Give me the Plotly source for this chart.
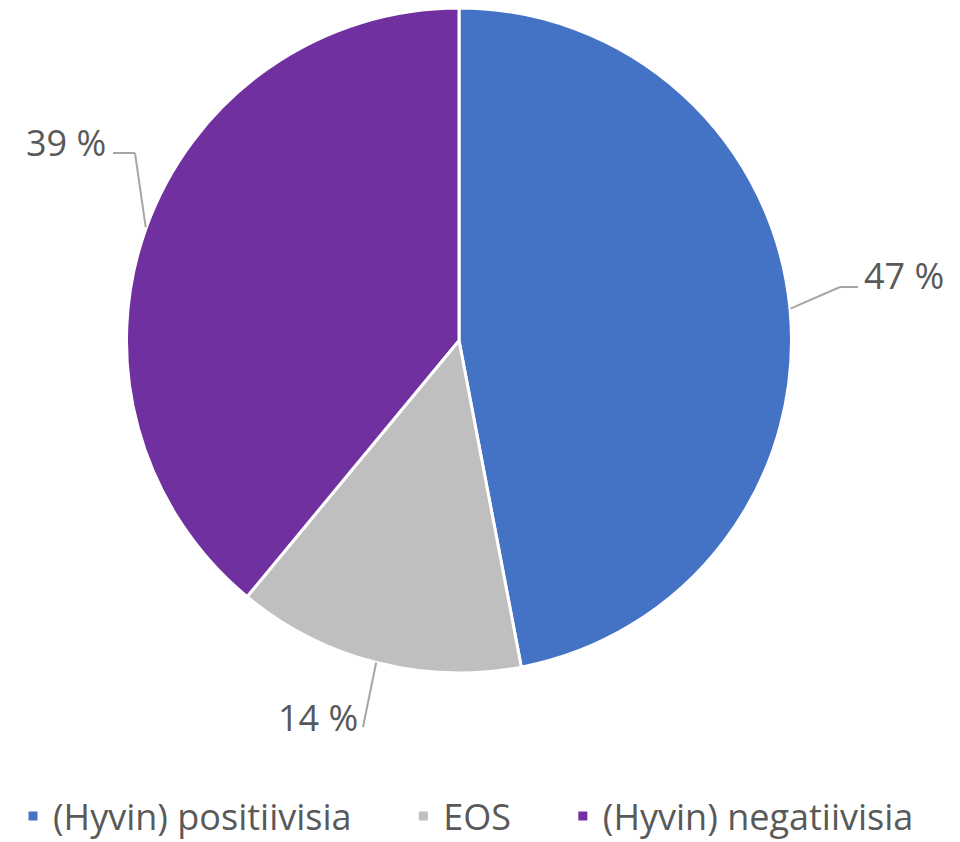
import math
import plotly.graph_objects as go

categories = ["(Hyvin) positiivisia", "EOS", "(Hyvin) negatiivisia"]
values = [47, 14, 39]
label_texts = ["47 %", "14 %", "39 %"]
colors = ["#4472C4", "#BFBFBF", "#7030A0"]

W, H = 960, 842
OFF = 8  # page body margin in the browser
CX, CY, R = 459, 340, 333
TEXT_COLOR = "#595959"
FONT = "Open Sans"
FS = 36

# label layout (pixel positions): text anchor, elbow, line end
label_layout = [
    dict(tx=862, ty=276, xanchor="left", elbow=(840, 287), end=(858, 287)),
    dict(tx=360, ty=717, xanchor="right", elbow=None, end=(363, 727)),
    dict(tx=108, ty=143, xanchor="right", elbow=(135, 153), end=(113, 153)),
]

# legend display names: spacing between the horizontal legend entries
legend_names = [c + "\u00a0" * 5 for c in categories[:-1]] + [categories[-1]]


def px(x):
    return (x - OFF) / W


def py(y):
    return 1 - (y - OFF) / H


fig = go.Figure(
    go.Pie(
        labels=legend_names,
        values=values,
        marker=dict(colors=colors, line=dict(color="white", width=3)),
        sort=False,
        direction="clockwise",
        rotation=0,
        textinfo="none",
        hovertext=categories,
        hoverinfo="text+percent",
        domain=dict(x=[px(CX - R), px(CX + R)], y=[py(CY + R), 1]),
    )
)

total = sum(values)
cum = 0
shapes = []
annotations = []
for v, txt, lay in zip(values, label_texts, label_layout):
    mid = (cum + v / 2) / total * 2 * math.pi
    cum += v
    ex = CX + R * math.sin(mid)
    ey = CY - R * math.cos(mid)
    pts = [(ex, ey)]
    if lay["elbow"]:
        pts.append(lay["elbow"])
    pts.append(lay["end"])
    for (x0, y0), (x1, y1) in zip(pts[:-1], pts[1:]):
        shapes.append(dict(type="line", xref="paper", yref="paper",
                           x0=px(x0), y0=py(y0), x1=px(x1), y1=py(y1),
                           line=dict(color="#A6A6A6", width=2)))
    annotations.append(dict(text=txt, x=px(lay["tx"]), y=py(lay["ty"]),
                            xref="paper", yref="paper", showarrow=False,
                            xanchor=lay["xanchor"], yanchor="middle",
                            font=dict(family=FONT, size=FS, color=TEXT_COLOR)))

fig.update_layout(
    width=W, height=H,
    margin=dict(l=0, r=0, t=0, b=0),
    paper_bgcolor="white",
    plot_bgcolor="white",
    shapes=shapes,
    annotations=annotations,
    showlegend=True,
    legend=dict(orientation="h", x=px(13), xanchor="left", y=py(816), yanchor="middle",
                font=dict(family=FONT, size=FS, color=TEXT_COLOR),
                traceorder="normal"),
)

fig.write_html("out.html")
